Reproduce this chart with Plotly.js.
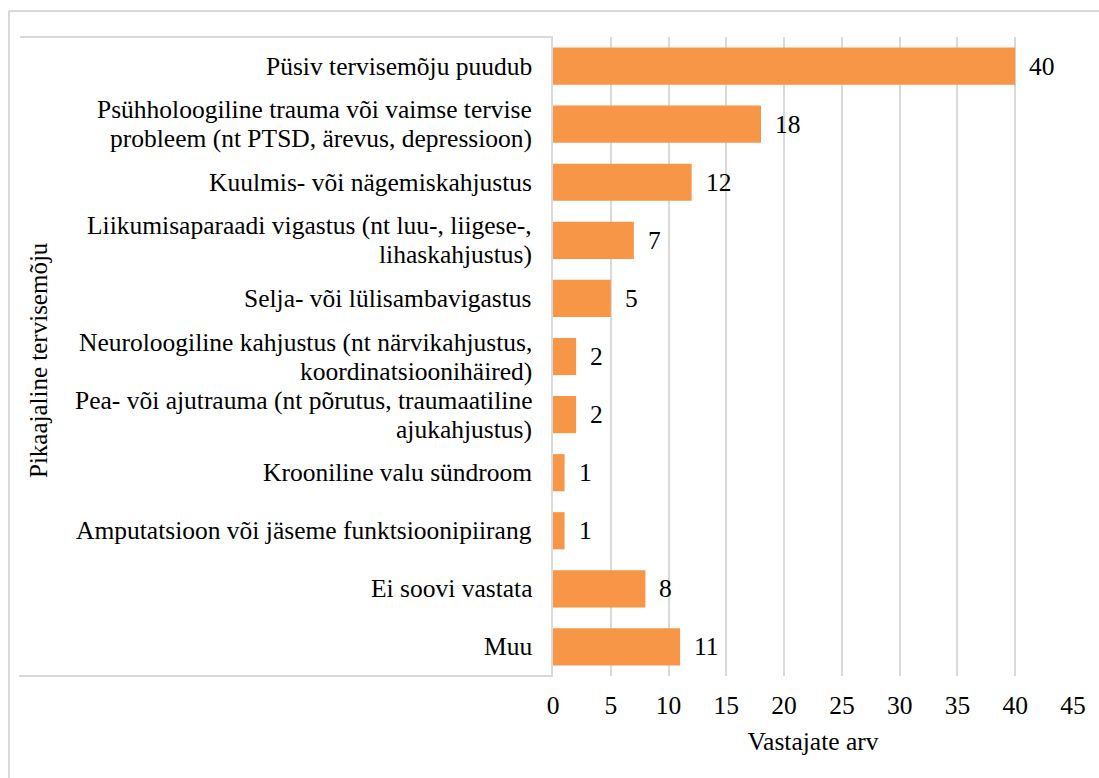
<!DOCTYPE html>
<html>
<head>
<meta charset="utf-8">
<script src="https://cdn.plot.ly/plotly-3.0.1.min.js"></script>
<style>html,body{margin:0;padding:0;background:#fff;}#chart{width:1099px;height:778px;}</style>
</head>
<body>
<div id="chart"></div>
<script>
const categories = [
  "Püsiv tervisemõju puudub",
  "Psühholoogiline trauma või vaimse tervise<br>probleem (nt PTSD, ärevus, depressioon)",
  "Kuulmis- või nägemiskahjustus",
  "Liikumisaparaadi vigastus (nt luu-, liigese-,<br>lihaskahjustus)",
  "Selja- või lülisambavigastus",
  "Neuroloogiline kahjustus (nt närvikahjustus,<br>koordinatsioonihäired)",
  "Pea- või ajutrauma (nt põrutus, traumaatiline<br>ajukahjustus)",
  "Krooniline valu sündroom",
  "Amputatsioon või jäseme funktsioonipiirang",
  "Ei soovi vastata",
  "Muu"
];
const values = [40, 18, 12, 7, 5, 2, 2, 1, 1, 8, 11];
const xTicks = [0, 5, 10, 15, 20, 25, 30, 35, 40, 45];
const xTitle = "Vastajate arv";
const yTitle = "Pikaajaline tervisemõju";

const W = 1099, H = 778;
const L = 553, R = 1073, T = 37, B = 676;
const px = x => (x - L) / (R - L);
const py = y => (B - y) / (B - T);
const gray = "#D9D9D9";
const FONT = "Liberation Serif, serif";
const FS = 25.5;
const LINE_GAP = 29;
const fnt = (s) => ({family: FONT, size: s || FS, color: "#000"});

const trace = {
  type: "bar",
  orientation: "h",
  x: values,
  y: categories,
  marker: {color: "#F79646"},
  hoverinfo: "none"
};

const annotations = values.map((v, i) => ({
  x: v, y: categories[i], xref: "x", yref: "y",
  text: String(v), showarrow: false, xanchor: "left", xshift: 12,
  font: fnt()
}));

// category labels, one annotation per text line, for Excel-like line spacing
categories.forEach(cat => {
  const parts = cat.split("<br>");
  const n = parts.length;
  parts.forEach((p, j) => {
    annotations.push({
      x: 0, xref: "paper", y: cat, yref: "y",
      text: p, showarrow: false, xanchor: "right", yanchor: "middle",
      xshift: -19, yshift: ((n - 1) / 2 - j) * LINE_GAP,
      font: fnt()
    });
  });
});

annotations.push({
  xref: "paper", yref: "paper", x: px(38), y: py(360),
  text: yTitle, textangle: -90, showarrow: false,
  xanchor: "center", yanchor: "middle",
  font: fnt(25)
});

const line = (x0, y0, x1, y1) => ({
  type: "line", xref: "paper", yref: "paper",
  x0: px(x0), y0: py(y0), x1: px(x1), y1: py(y1),
  line: {color: gray, width: 2}
});

const layout = {
  width: W, height: H,
  margin: {l: L, r: W - R, t: T, b: H - B, pad: 0},
  paper_bgcolor: "#fff", plot_bgcolor: "#fff",
  font: fnt(),
  showlegend: false,
  bargap: 0.36,
  xaxis: {
    range: [0, 45],
    tickvals: xTicks,
    ticktext: xTicks.map(String),
    showgrid: true, gridcolor: gray, gridwidth: 2,
    zeroline: false, showline: false,
    ticks: "", ticklabelstandoff: 11,
    tickfont: fnt(),
    title: {text: xTitle, standoff: 13, font: fnt()},
    fixedrange: true
  },
  yaxis: {
    autorange: "reversed",
    showgrid: false, zeroline: false,
    showline: true, linecolor: gray, linewidth: 2,
    ticks: "", showticklabels: false,
    fixedrange: true
  },
  annotations: annotations,
  shapes: [
    line(9, 11, 1099, 11),
    line(9, 11, 9, 778),
    line(20, 37, 553, 37),
    line(19, 676, 553, 676)
  ]
};

Plotly.newPlot("chart", [trace], layout, {staticPlot: true, displayModeBar: false});
</script>
</body>
</html>
